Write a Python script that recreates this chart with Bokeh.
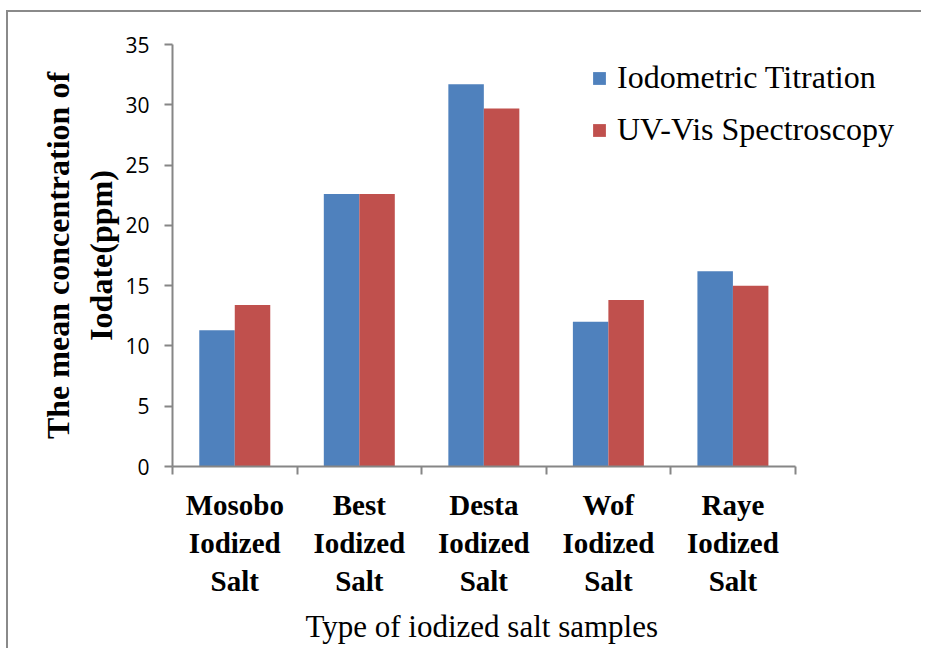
from bokeh.plotting import figure
from bokeh.models import Range1d, FixedTicker, Legend, LegendItem, Title
from bokeh.embed import file_html
from bokeh.resources import INLINE

categories = ["Mosobo\nIodized\nSalt", "Best\nIodized\nSalt", "Desta\nIodized\nSalt",
              "Wof\nIodized\nSalt", "Raye\nIodized\nSalt"]
series_names = ["Iodometric Titration", "UV-Vis Spectroscopy"]
titration = [11.3, 22.6, 31.7, 12.0, 16.2]
uvvis = [13.4, 22.6, 29.7, 13.8, 15.0]
y_ticks = [0, 5, 10, 15, 20, 25, 30, 35]
x_title = "Type of iodized salt samples"
y_title = "The mean concentration of\nIodate(ppm)"

BLUE = "#4F81BD"
RED = "#C0504D"
AXIS = "#868686"
bar_w = 0.285
n = len(categories)
centers = [i + 0.5 for i in range(n)]

# frame extends right so the legend is not clipped; the x axis is bounded to the categories
x_end = n * (910 - 172) / (793 - 172)

p = figure(width=915, height=638, output_backend="svg", toolbar_location=None,
           x_range=Range1d(0, x_end), y_range=Range1d(0, 35))
p.margin = (10, 0, 0, 6)
p.styles = {"border-left": "2px solid #8a8a8a", "border-top": "2px solid #8a8a8a",
            "box-sizing": "border-box"}
p.min_border_left = 164
p.min_border_right = 11
p.min_border_top = 32
p.min_border_bottom = 182
p.outline_line_color = None
p.background_fill_color = "white"
p.border_fill_color = "white"
p.xgrid.grid_line_color = None
p.ygrid.grid_line_color = None

r1 = p.vbar(x=[c - bar_w / 2 for c in centers], top=titration, width=bar_w, bottom=0,
            fill_color=BLUE, line_color=None)
r2 = p.vbar(x=[c + bar_w / 2 for c in centers], top=uvvis, width=bar_w, bottom=0,
            fill_color=RED, line_color=None)

# x axis
xa = p.xaxis[0]
xa.bounds = (0, n)
xa.ticker = FixedTicker(ticks=centers, minor_ticks=list(range(n + 1)))
xa.major_label_overrides = {c: lab for c, lab in zip(centers, categories)}
xa.major_tick_line_color = None
xa.minor_tick_in = 0
xa.minor_tick_out = 8
xa.minor_tick_line_color = AXIS
xa.minor_tick_line_width = 2
xa.axis_line_color = AXIS
xa.axis_line_width = 2
xa.major_label_text_font = "Liberation Serif"
xa.major_label_text_font_style = "bold"
xa.major_label_text_font_size = "29px"
xa.major_label_text_color = "black"
xa.major_label_standoff = 14

# x title centred under the category axis (not the wider frame)
xt = Title(text=x_title, align="left", offset=133, standoff=13,
           text_font="Liberation Serif", text_font_style="normal",
           text_font_size="31px", text_color="black")
p.add_layout(xt, "below")

# y axis
ya = p.yaxis[0]
ya.ticker = FixedTicker(ticks=y_ticks)
ya.axis_line_color = AXIS
ya.axis_line_width = 2
ya.major_tick_line_color = AXIS
ya.major_tick_line_width = 2
ya.major_tick_in = 0
ya.major_tick_out = 8
ya.minor_tick_line_color = None
ya.major_label_text_font = "Open Sans"
ya.major_label_text_font_size = "21px"
ya.major_label_text_color = "black"
ya.major_label_standoff = 15
ya.axis_label = y_title
ya.axis_label_text_font = "Liberation Serif"
ya.axis_label_text_font_style = "bold"
ya.axis_label_text_font_size = "32px"
ya.axis_label_text_color = "black"
ya.axis_label_standoff = 3

legend = Legend(items=[LegendItem(label=series_names[0], renderers=[r1]),
                       LegendItem(label=series_names[1], renderers=[r2])],
                location=(419, 318))
legend.glyph_width = 16
legend.glyph_height = 16
legend.label_standoff = 10
legend.spacing = 15
legend.padding = 0
legend.margin = 0
legend.border_line_color = None
legend.background_fill_alpha = 0
legend.label_text_font = "Liberation Serif"
legend.label_text_font_size = "32px"
legend.label_text_color = "black"
p.add_layout(legend, "center")

open("out.html", "w").write(file_html(p, INLINE))
